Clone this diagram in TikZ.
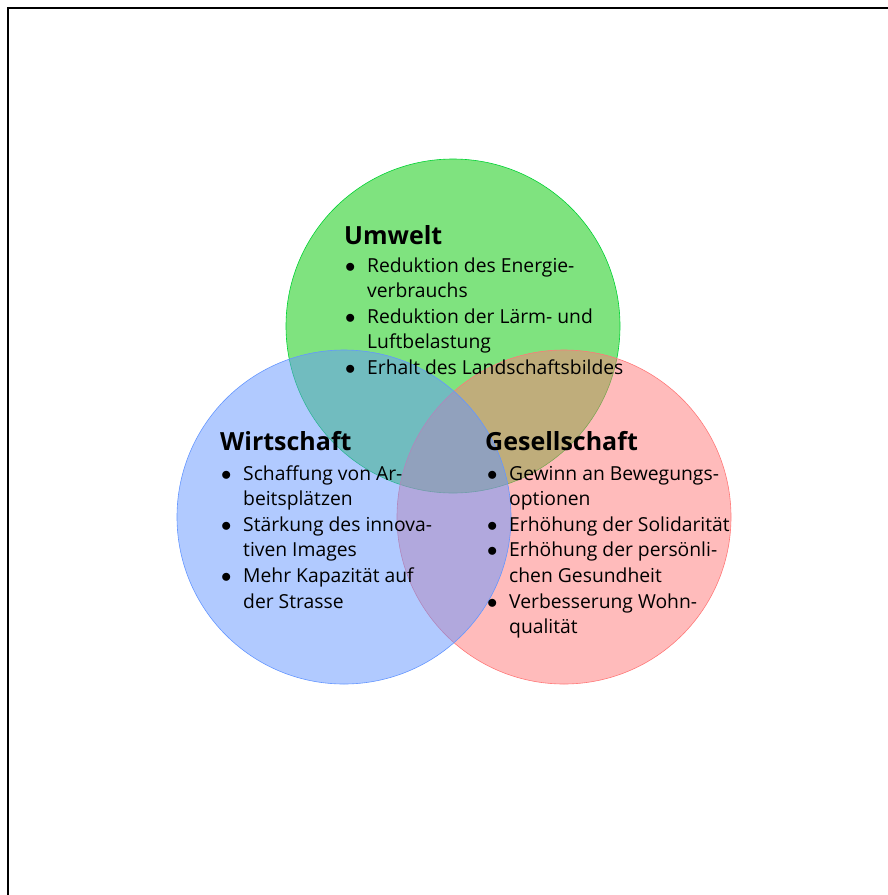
\documentclass[tikz,border=0pt]{standalone}
\usepackage{fontspec}
\setmainfont{Open Sans}
\definecolor{umweltgruen}{RGB}{0,200,0}
\definecolor{wirtschaftblau}{RGB}{100,150,255}
\definecolor{gesellschaftrot}{RGB}{255,120,120}
\newcommand{\punkt}{\makebox[23pt][l]{\hspace{1pt}$\bullet$}}
\newcommand{\weiter}{\hspace*{23pt}}

\begin{document}
\begin{tikzpicture}[x=1pt, y=-1pt, kreis/.style={circle, inner sep=0pt, minimum size=334pt, fill opacity=0.5, line width=0.6pt}, titel/.style={anchor=base west, inner sep=0pt, font=\bfseries\fontsize{25}{30}\selectfont}, liste/.style={anchor=base west, inner sep=0pt, font=\fontsize{19.3}{25.6}\selectfont}]
  \useasboundingbox (0,0) rectangle (888,895);
  \draw[line width=2pt] (8,895) -- (8,8) -- (888,8);
  \node[kreis, fill=umweltgruen, draw=umweltgruen!80!cyan](umweltkreis) at (453,326){};
  \node[kreis, fill=gesellschaftrot, draw=gesellschaftrot](gesellschaftkreis) at (564,517){};
  \node[kreis, fill=wirtschaftblau, draw=wirtschaftblau](wirtschaftkreis) at (344,517){};
  \node[titel](umwelt) at (344,244){Umwelt};
  \node[liste](umweltliste) at (344,272){\begin{tabular}[t]{@{}l@{}}
    \punkt Reduktion des Energie-\\
    \weiter verbrauchs\\
    \punkt Reduktion der Lärm- und\\
    \weiter Luftbelastung\\
    \punkt Erhalt des Landschaftsbildes\end{tabular}};
  \node[titel](wirtschaft) at (220,450){Wirtschaft};
  \node[liste](wirtschaftliste) at (220,480){\begin{tabular}[t]{@{}l@{}}
    \punkt Schaffung von Ar-\\
    \weiter beitsplätzen\\
    \punkt Stärkung des innova-\\
    \weiter tiven Images\\
    \punkt Mehr Kapazität auf\\
    \weiter der Strasse\end{tabular}};
  \node[titel](gesellschaft) at (485,450){Gesellschaft};
  \node[liste](gesellschaftliste) at (486,480){\begin{tabular}[t]{@{}l@{}}
    \punkt Gewinn an Bewegungs-\\
    \weiter optionen\\
    \punkt Erhöhung der Solidarität\\
    \punkt Erhöhung der persönli-\\
    \weiter chen Gesundheit\\
    \punkt Verbesserung Wohn-\\
    \weiter qualität\end{tabular}};
\end{tikzpicture}
\end{document}
